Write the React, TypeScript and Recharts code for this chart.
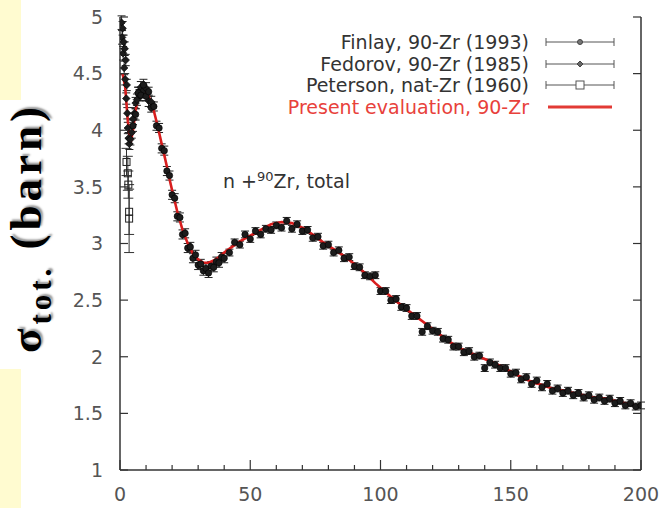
import React from 'react';
import { ComposedChart, Scatter, Line, XAxis, YAxis, ErrorBar, Legend } from 'recharts';

const xTicks = [0, 10, 20, 30, 40, 50, 60, 70, 80, 90, 100, 110, 120, 130, 140, 150, 160, 170, 180, 190, 200];
const yTicks = [1, 1.5, 2, 2.5, 3, 3.5, 4, 4.5, 5];

const seriesNames = [
  'Finlay, 90-Zr (1993)',
  'Fedorov, 90-Zr (1985)',
  'Peterson, nat-Zr (1960)',
  'Present evaluation, 90-Zr',
];

// Finlay (1993), MeV / barn
const finlayE = [
  5, 6, 7, 8, 9, 10, 11, 12, 13, 14, 15, 16, 17, 18, 19, 20, 21, 22, 23, 24, 25, 26, 27, 28, 29, 30,
  31, 32, 33, 34, 35, 36, 37, 38, 39, 40,
  42, 44, 46, 48, 50, 52, 54, 56, 58, 60, 62, 64, 66, 68, 70, 72, 74, 76, 78, 80,
  82, 84, 86, 88, 90, 92, 94, 96, 98, 100, 102, 104, 106, 108, 110, 112, 114, 116, 118, 120,
  122, 124, 126, 128, 130, 132, 134, 136, 138, 140, 142, 144, 146, 148, 150, 152, 154, 156, 158, 160,
  162, 164, 166, 168, 170, 172, 174, 176, 178, 180, 182, 184, 186, 188, 190, 192, 194, 196, 198, 200,
];
const finlaySigma = [
  4.04, 4.14, 4.33, 4.31, 4.4, 4.3, 4.34, 4.2, 4.21, 4.04, 4.02, 3.84, 3.82, 3.64, 3.6, 3.43, 3.4, 3.24,
  3.23, 3.08, 3.09, 2.96, 2.97, 2.87, 2.9, 2.81, 2.82, 2.76, 2.78, 2.74, 2.8, 2.79, 2.84, 2.83, 2.88, 2.87,
  2.92, 3.01, 2.99, 3.08, 3.04, 3.11, 3.08, 3.13, 3.12, 3.16, 3.14, 3.2, 3.13, 3.17, 3.11, 3.12, 3.05, 3.06,
  2.98, 2.99, 2.92, 2.94, 2.87, 2.88, 2.8, 2.79, 2.72, 2.71, 2.72, 2.58, 2.58, 2.5, 2.51, 2.44, 2.43, 2.36,
  2.36, 2.22, 2.27, 2.23, 2.22, 2.16, 2.15, 2.09, 2.09, 2.04, 2.05, 2.0, 2.01, 1.9, 1.95, 1.93, 1.9, 1.9,
  1.85, 1.86, 1.8, 1.82, 1.76, 1.79, 1.73, 1.76, 1.7, 1.72, 1.68, 1.7, 1.66, 1.68, 1.64, 1.66, 1.62, 1.64,
  1.61, 1.63, 1.59, 1.61, 1.57, 1.59, 1.56, 1.57,
];
const finlayErr = [
  0.05, 0.05, 0.05, 0.05, 0.05, 0.04, 0.04, 0.04, 0.04, 0.04, 0.04, 0.04, 0.04, 0.04, 0.04, 0.04, 0.04, 0.04,
  0.04, 0.04, 0.04, 0.04, 0.04, 0.04, 0.04, 0.04, 0.04, 0.04, 0.04, 0.04, 0.04, 0.04, 0.04, 0.04, 0.04, 0.04,
  0.03, 0.03, 0.03, 0.03, 0.03, 0.03, 0.03, 0.03, 0.03, 0.03, 0.03, 0.03, 0.03, 0.03, 0.03, 0.03, 0.03, 0.03,
  0.03, 0.03, 0.03, 0.03, 0.03, 0.03, 0.03, 0.03, 0.03, 0.03, 0.03, 0.03, 0.03, 0.03, 0.03, 0.03, 0.03, 0.03,
  0.03, 0.03, 0.03, 0.03, 0.03, 0.03, 0.03, 0.03, 0.03, 0.03, 0.03, 0.03, 0.03, 0.03, 0.03, 0.03, 0.03, 0.03,
  0.03, 0.03, 0.03, 0.03, 0.03, 0.03, 0.03, 0.03, 0.03, 0.03, 0.03, 0.03, 0.03, 0.03, 0.03, 0.03, 0.03, 0.03,
  0.03, 0.03, 0.03, 0.03, 0.03, 0.03, 0.03, 0.03,
];

// Fedorov (1985)
const fedorovE = [
  0.6, 0.8, 1.0, 1.2, 1.4, 1.6, 1.8, 2.0, 2.2, 2.4, 2.6, 2.8, 3.0, 3.3, 3.6, 4.0, 4.5, 5.0, 5.5, 6.0, 6.5,
  7.0, 7.5, 8.0, 9.0, 10.0, 11.0, 12.0,
];
const fedorovSigma = [
  4.95, 4.82, 4.9, 4.68, 4.78, 4.55, 4.72, 4.45, 4.62, 4.28, 4.4, 4.15, 4.02, 3.93, 3.88, 3.92, 3.98, 4.1,
  4.15, 4.24, 4.27, 4.33, 4.31, 4.38, 4.35, 4.37, 4.26, 4.25,
];
const fedorovErr = [
  0.06, 0.06, 0.06, 0.06, 0.06, 0.06, 0.06, 0.05, 0.05, 0.05, 0.05, 0.05, 0.05, 0.05, 0.05, 0.05, 0.05, 0.05,
  0.05, 0.05, 0.05, 0.05, 0.05, 0.05, 0.05, 0.05, 0.05, 0.05,
];

// Peterson (1960)
const petersonE = [2.5, 3.0, 3.2, 3.5, 3.5];
const petersonSigma = [3.72, 3.62, 3.52, 3.28, 3.22];
const petersonErr = [0.12, 0.15, 0.12, 0.2, 0.3];

// Present evaluation
const evalE = [
  1, 2, 3, 4, 5, 6, 7, 8, 9, 10, 11, 12, 13, 14, 15, 16, 17, 18, 19, 20, 22, 24, 26, 28, 30, 32, 34, 36, 38,
  40, 43, 46, 50, 54, 58, 62, 66, 70, 74, 78, 82, 86, 90, 94, 98, 102, 106, 110, 114, 118, 122, 126, 130,
  134, 138, 142, 146, 150, 154, 158, 162, 166, 170, 174, 178, 182, 186, 190, 194, 198, 200,
];
const evalSigma = [
  4.5, 4.38, 4.08, 3.88, 4.0, 4.18, 4.3, 4.35, 4.36, 4.34, 4.3, 4.24, 4.17, 4.08, 3.98, 3.88, 3.78, 3.68,
  3.57, 3.47, 3.28, 3.12, 3.0, 2.91, 2.86, 2.83, 2.83, 2.85, 2.88, 2.92, 2.97, 3.02, 3.07, 3.12, 3.17, 3.19,
  3.18, 3.14, 3.08, 3.01, 2.95, 2.89, 2.82, 2.74, 2.65, 2.57, 2.49, 2.42, 2.35, 2.28, 2.21, 2.14, 2.08, 2.04,
  2.0, 1.96, 1.92, 1.87, 1.82, 1.78, 1.75, 1.72, 1.7, 1.68, 1.66, 1.64, 1.63, 1.61, 1.59, 1.57, 1.56,
];

const toPoints = (e: number[], s: number[], err?: number[]) =>
  e.map((x, i) => ({ e: x, s: s[i], err: err ? err[i] : 0 }));

const finlay = toPoints(finlayE, finlaySigma, finlayErr);
const fedorov = toPoints(fedorovE, fedorovSigma, fedorovErr);
const peterson = toPoints(petersonE, petersonSigma, petersonErr);
const evaluation = toPoints(evalE, evalSigma);

const FONT = '"DejaVu Sans", Arial, sans-serif';
const AXIS = '#333';
const LABEL = '#555';
const RED = '#d81e1e';

const BottomTick = ({ x, y, payload }: any) => {
  const major = payload.value % 50 === 0;
  return (
    <g>
      <line x1={x} x2={x} y1={y} y2={y - (major ? 10 : 5)} stroke={AXIS} strokeWidth={1.2} />
      {major && (
        <text x={x} y={y + 31} textAnchor="middle" fill={LABEL} fontSize={19} fontFamily={FONT}>
          {payload.value}
        </text>
      )}
    </g>
  );
};

const TopTick = ({ x, y, payload }: any) => {
  const major = payload.value % 50 === 0;
  return <line x1={x} x2={x} y1={y} y2={y + (major ? 10 : 5)} stroke={AXIS} strokeWidth={1.2} />;
};

const LeftTick = ({ x, y, payload }: any) => (
  <g>
    <line x1={x} x2={x + 8} y1={y} y2={y} stroke={AXIS} strokeWidth={1.2} />
    <text x={x - 17} y={y} dy="0.36em" textAnchor="end" fill={LABEL} fontSize={19} fontFamily={FONT}>
      {payload.value}
    </text>
  </g>
);

const RightTick = ({ x, y }: any) => (
  <line x1={x} x2={x - 8} y1={y} y2={y} stroke={AXIS} strokeWidth={1.2} />
);

const Dot = ({ cx, cy }: any) => (
  <circle cx={cx} cy={cy} r={3.2} fill="#1c1c1c" stroke="#000" strokeWidth={0.6} />
);
const Diamond = ({ cx, cy }: any) => (
  <path d={`M${cx},${cy - 3.8}L${cx + 3.8},${cy}L${cx},${cy + 3.8}L${cx - 3.8},${cy}Z`} fill="#1c1c1c" stroke="#000" strokeWidth={0.6} />
);
const Square = ({ cx, cy }: any) => (
  <rect x={cx - 3.5} y={cy - 3.5} width={7} height={7} fill="none" stroke="#222" strokeWidth={1} />
);

const LegendSample = ({ index }: { index: number }) => {
  if (index === 3) {
    return (
      <svg width={70} height={14}>
        <line x1={3} x2={67} y1={7} y2={7} stroke="#e23a35" strokeWidth={3} />
      </svg>
    );
  }
  return (
    <svg width={70} height={14}>
      <line x1={1} x2={69} y1={7} y2={7} stroke="#555" strokeWidth={1} />
      <line x1={1} x2={1} y1={3} y2={11} stroke="#555" strokeWidth={1} />
      <line x1={69} x2={69} y1={3} y2={11} stroke="#555" strokeWidth={1} />
      {index === 0 && <circle cx={35} cy={7} r={2.5} fill="#777" stroke="#444" />}
      {index === 1 && <path d="M35,4L38,7L35,10L32,7Z" fill="#666" stroke="#444" />}
      {index === 2 && <rect x={31} y={3} width={8} height={8} fill="#fff" stroke="#555" />}
    </svg>
  );
};

const LegendBox = () => (
  <div style={{ fontFamily: FONT, fontSize: 19 }}>
    {seriesNames.map((name, i) => (
      <div key={name} style={{ display: 'flex', alignItems: 'center', height: 21.7 }}>
        <span
          style={{
            flex: 1,
            textAlign: 'right',
            whiteSpace: 'nowrap',
            color: i === 3 ? '#e8413b' : '#333',
          }}
        >
          {name}
        </span>
        <span style={{ marginLeft: 16, display: 'flex' }}>
          <LegendSample index={i} />
        </span>
      </div>
    ))}
  </div>
);

export default function App() {
  return (
    <div style={{ position: 'relative', width: 663, height: 508, background: '#fff', overflow: 'hidden' }}>
      <style>{'body{margin:0}'}</style>
      <div style={{ position: 'absolute', left: 0, top: 0, width: 21, height: 100, background: '#fffbd0' }} />
      <div style={{ position: 'absolute', left: 0, top: 369, width: 21, height: 139, background: '#fffbd0' }} />
      <ComposedChart width={663} height={508} margin={{ top: 17, right: 0, bottom: 0, left: 0 }}>
        <XAxis
          xAxisId="b"
          type="number"
          dataKey="e"
          domain={[0, 200]}
          ticks={xTicks}
          interval={0}
          height={38}
          tickSize={0}
          tickMargin={0}
          tick={<BottomTick />}
          axisLine={{ stroke: AXIS, strokeWidth: 1.5 }}
          allowDataOverflow
        />
        <XAxis
          xAxisId="t"
          orientation="top"
          type="number"
          dataKey="e"
          domain={[0, 200]}
          ticks={xTicks}
          interval={0}
          height={0}
          tickSize={0}
          tickMargin={0}
          tick={<TopTick />}
          axisLine={{ stroke: AXIS, strokeWidth: 1.5 }}
          allowDataOverflow
        />
        <YAxis
          yAxisId="l"
          type="number"
          dataKey="s"
          domain={[1, 5]}
          ticks={yTicks}
          interval={0}
          width={120}
          tickSize={0}
          tickMargin={0}
          tick={<LeftTick />}
          axisLine={{ stroke: AXIS, strokeWidth: 1.5 }}
          allowDataOverflow
        />
        <YAxis
          yAxisId="r"
          orientation="right"
          type="number"
          dataKey="s"
          domain={[1, 5]}
          ticks={yTicks}
          interval={0}
          width={22}
          tickSize={0}
          tickMargin={0}
          tick={<RightTick />}
          axisLine={{ stroke: AXIS, strokeWidth: 1.5 }}
          allowDataOverflow
        />
        <Legend
          layout="vertical"
          align="center"
          verticalAlign="middle"
          content={() => <LegendBox />}
          wrapperStyle={{ left: 245, top: 31, width: 370, height: 90 }}
        />
        <Scatter name={seriesNames[2]} data={peterson} dataKey="s" xAxisId="b" yAxisId="l" shape={<Square />} isAnimationActive={false}>
          <ErrorBar dataKey="err" direction="y" width={5} stroke="#333" strokeWidth={1} />
        </Scatter>
        <Scatter name={seriesNames[1]} data={fedorov} dataKey="s" xAxisId="b" yAxisId="l" shape={<Diamond />} isAnimationActive={false}>
          <ErrorBar dataKey="err" direction="y" width={4} stroke="#222" strokeWidth={1} />
        </Scatter>
        <Scatter name={seriesNames[0]} data={finlay} dataKey="s" xAxisId="b" yAxisId="l" shape={<Dot />} isAnimationActive={false}>
          <ErrorBar dataKey="err" direction="y" width={4} stroke="#222" strokeWidth={1} />
        </Scatter>
        <Line
          name={seriesNames[3]}
          data={evaluation}
          dataKey="s"
          xAxisId="b"
          yAxisId="l"
          type="linear"
          stroke={RED}
          strokeWidth={2.6}
          dot={false}
          isAnimationActive={false}
        />
      </ComposedChart>
      <div
        style={{
          position: 'absolute',
          left: 223,
          top: 171,
          fontFamily: FONT,
          fontSize: 19,
          color: '#333',
          whiteSpace: 'nowrap',
          lineHeight: '20px',
        }}
      >
        n +<sup style={{ fontSize: 13, lineHeight: 0 }}>90</sup>Zr, total
      </div>
      <div
        style={{
          position: 'absolute',
          left: 33,
          top: 228,
          transform: 'translate(-50%, -50%) rotate(-90deg)',
          fontFamily: '"Liberation Serif", "Times New Roman", serif',
          fontWeight: 'bold',
          fontSize: 45,
          letterSpacing: 4,
          whiteSpace: 'nowrap',
          color: '#000',
          textShadow: '2px 2px 2px #999',
          lineHeight: '44px',
        }}
      >
        σ<sub style={{ fontSize: 31 }}>tot.</sub> (barn)
      </div>
    </div>
  );
}
